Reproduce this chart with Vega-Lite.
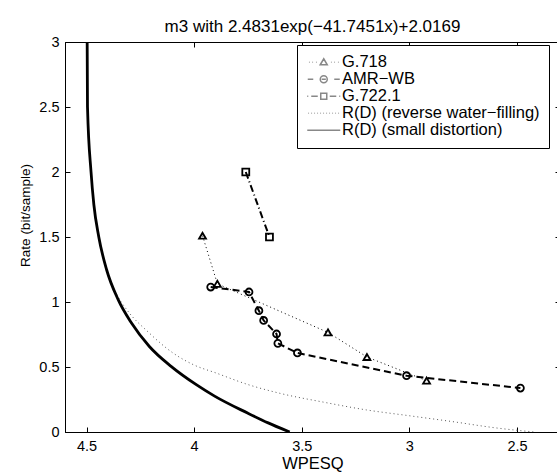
{
  "$schema": "https://vega.github.io/schema/vega-lite/v6.json",
  "width": 495,
  "height": 390,
  "autosize": {"type": "none"},
  "padding": {"left": 65, "top": 42, "right": 0, "bottom": 40},
  "background": "white",
  "title": {"text": "m3 with 2.4831exp(−41.7451x)+2.0169", "fontSize": 17, "fontWeight": "normal", "font": "Liberation Sans", "color": "black", "offset": -2, "anchor": "middle"},
  "config": {
    "view": {"stroke": "black", "strokeWidth": 1},
    "font": "Liberation Sans",
    "axis": {"domainColor": "black", "tickColor": "black", "labelColor": "black", "titleColor": "black", "labelFontSize": 14.5, "titleFontSize": 16.5, "titleFontWeight": "normal", "grid": false, "labelFont": "Liberation Sans", "titleFont": "Liberation Sans"}
  },
  "datasets": {
    "pts": [
      {"series": "G.718", "x": 3.961, "y": 1.51, "o": 1},
      {"series": "G.718", "x": 3.892, "y": 1.14, "o": 2},
      {"series": "G.718", "x": 3.378, "y": 0.766, "o": 3},
      {"series": "G.718", "x": 3.197, "y": 0.577, "o": 4},
      {"series": "G.718", "x": 2.92, "y": 0.395, "o": 5},
      {"series": "AMR−WB", "x": 3.923, "y": 1.115, "o": 1},
      {"series": "AMR−WB", "x": 3.745, "y": 1.077, "o": 2},
      {"series": "AMR−WB", "x": 3.699, "y": 0.933, "o": 3},
      {"series": "AMR−WB", "x": 3.677, "y": 0.858, "o": 4},
      {"series": "AMR−WB", "x": 3.617, "y": 0.754, "o": 5},
      {"series": "AMR−WB", "x": 3.611, "y": 0.682, "o": 6},
      {"series": "AMR−WB", "x": 3.52, "y": 0.608, "o": 7},
      {"series": "AMR−WB", "x": 3.013, "y": 0.433, "o": 8},
      {"series": "AMR−WB", "x": 2.484, "y": 0.338, "o": 9},
      {"series": "G.722.1", "x": 3.76, "y": 2.0, "o": 1},
      {"series": "G.722.1", "x": 3.65, "y": 1.5, "o": 2}
    ],
    "curves": [
      {"series": "R(D) (reverse water−filling)", "x": 4.497, "y": 3.0, "o": 1},
      {"series": "R(D) (reverse water−filling)", "x": 4.4955, "y": 2.5, "o": 2},
      {"series": "R(D) (reverse water−filling)", "x": 4.479, "y": 2.0, "o": 3},
      {"series": "R(D) (reverse water−filling)", "x": 4.466, "y": 1.75, "o": 4},
      {"series": "R(D) (reverse water−filling)", "x": 4.443, "y": 1.5, "o": 5},
      {"series": "R(D) (reverse water−filling)", "x": 4.407, "y": 1.25, "o": 6},
      {"series": "R(D) (reverse water−filling)", "x": 4.36, "y": 1.06, "o": 7},
      {"series": "R(D) (reverse water−filling)", "x": 4.307, "y": 0.928, "o": 8},
      {"series": "R(D) (reverse water−filling)", "x": 4.214, "y": 0.77, "o": 9},
      {"series": "R(D) (reverse water−filling)", "x": 4.1, "y": 0.61, "o": 10},
      {"series": "R(D) (reverse water−filling)", "x": 4.0, "y": 0.515, "o": 11},
      {"series": "R(D) (reverse water−filling)", "x": 3.9, "y": 0.455, "o": 12},
      {"series": "R(D) (reverse water−filling)", "x": 3.75, "y": 0.365, "o": 13},
      {"series": "R(D) (reverse water−filling)", "x": 3.6, "y": 0.297, "o": 14},
      {"series": "R(D) (reverse water−filling)", "x": 3.4, "y": 0.23, "o": 15},
      {"series": "R(D) (reverse water−filling)", "x": 3.2, "y": 0.17, "o": 16},
      {"series": "R(D) (reverse water−filling)", "x": 3.0, "y": 0.125, "o": 17},
      {"series": "R(D) (reverse water−filling)", "x": 2.8, "y": 0.08, "o": 18},
      {"series": "R(D) (reverse water−filling)", "x": 2.6, "y": 0.032, "o": 19},
      {"series": "R(D) (reverse water−filling)", "x": 2.42, "y": 0.0, "o": 20},
      {"series": "R(D) (small distortion)", "x": 4.497, "y": 3.0, "o": 1},
      {"series": "R(D) (small distortion)", "x": 4.4955, "y": 2.5, "o": 2},
      {"series": "R(D) (small distortion)", "x": 4.479, "y": 2.0, "o": 3},
      {"series": "R(D) (small distortion)", "x": 4.466, "y": 1.75, "o": 4},
      {"series": "R(D) (small distortion)", "x": 4.443, "y": 1.5, "o": 5},
      {"series": "R(D) (small distortion)", "x": 4.407, "y": 1.25, "o": 6},
      {"series": "R(D) (small distortion)", "x": 4.353, "y": 1.018, "o": 7},
      {"series": "R(D) (small distortion)", "x": 4.291, "y": 0.838, "o": 8},
      {"series": "R(D) (small distortion)", "x": 4.208, "y": 0.658, "o": 9},
      {"series": "R(D) (small distortion)", "x": 4.107, "y": 0.505, "o": 10},
      {"series": "R(D) (small distortion)", "x": 3.99, "y": 0.364, "o": 11},
      {"series": "R(D) (small distortion)", "x": 3.903, "y": 0.274, "o": 12},
      {"series": "R(D) (small distortion)", "x": 3.752, "y": 0.146, "o": 13},
      {"series": "R(D) (small distortion)", "x": 3.656, "y": 0.07, "o": 14},
      {"series": "R(D) (small distortion)", "x": 3.556, "y": 0.0, "o": 15}
    ]
  },
  "resolve": {"scale": {"shape": "independent"}, "axis": {"x": "independent", "y": "independent"}},
  "layer": [
    {
      "data": {"name": "pts"},
      "transform": [{"filter": "datum.series === 'G.718'"}],
      "mark": {"type": "line", "interpolate": "linear", "clip": true, "color": "black", "strokeWidth": 1, "strokeDash": [1, 3]},
      "encoding": {
        "x": {"field": "x", "type": "quantitative", "scale": {"domain": [2.3, 4.6], "reverse": true, "nice": false, "zero": false},
              "axis": {"values": [2.5, 3, 3.5, 4, 4.5], "format": "~g", "title": "WPESQ", "tickSize": -5, "labelPadding": 12, "titleY": 36.5, "titleBaseline": "alphabetic", "domainWidth": 1}},
        "y": {"field": "y", "type": "quantitative", "scale": {"domain": [0, 3], "nice": false},
              "axis": {"values": [0, 0.5, 1, 1.5, 2, 2.5, 3], "format": "~g", "title": "Rate (bit/sample)", "titleFontSize": 13.5, "tickSize": -5, "labelPadding": 11, "titleX": -33, "titleY": 173, "domainWidth": 1}},
        "order": {"field": "o"}
      }
    },
    {
      "data": {"name": "pts"},
      "transform": [{"filter": "datum.series === 'AMR−WB'"}],
      "mark": {"type": "line", "interpolate": "linear", "clip": true, "color": "black", "strokeWidth": 2, "strokeDash": [7, 4]},
      "encoding": {
        "x": {"field": "x", "type": "quantitative", "axis": null},
        "y": {"field": "y", "type": "quantitative", "axis": null},
        "order": {"field": "o"}
      }
    },
    {
      "data": {"name": "pts"},
      "transform": [{"filter": "datum.series === 'G.722.1'"}],
      "mark": {"type": "line", "interpolate": "linear", "clip": true, "color": "black", "strokeWidth": 2, "strokeDash": [7, 3, 1, 3]},
      "encoding": {
        "x": {"field": "x", "type": "quantitative", "axis": null},
        "y": {"field": "y", "type": "quantitative", "axis": null},
        "order": {"field": "o"}
      }
    },
    {
      "data": {"name": "curves"},
      "transform": [{"filter": "datum.series === 'R(D) (reverse water−filling)'"}],
      "mark": {"type": "line", "interpolate": "monotone", "clip": true, "color": "#555", "strokeWidth": 1, "strokeDash": [1, 3]},
      "encoding": {
        "x": {"field": "x", "type": "quantitative", "axis": null},
        "y": {"field": "y", "type": "quantitative", "axis": null},
        "order": {"field": "o"}
      }
    },
    {
      "data": {"name": "curves"},
      "transform": [{"filter": "datum.series === 'R(D) (small distortion)'"}],
      "mark": {"type": "line", "interpolate": "monotone", "clip": true, "color": "black", "strokeWidth": 2.8},
      "encoding": {
        "x": {"field": "x", "type": "quantitative", "axis": null},
        "y": {"field": "y", "type": "quantitative", "axis": null},
        "order": {"field": "o"}
      }
    },
    {
      "data": {"name": "pts"},
      "mark": {"type": "point", "filled": false, "stroke": "black", "strokeWidth": 1.8, "opacity": 1, "size": 48},
      "encoding": {
        "x": {"field": "x", "type": "quantitative", "axis": {"orient": "top", "values": [2.5, 3, 3.5, 4, 4.5], "labels": false, "tickSize": -5, "title": null, "domainWidth": 1}},
        "y": {"field": "y", "type": "quantitative", "axis": {"orient": "right", "values": [0, 0.5, 1, 1.5, 2, 2.5, 3], "labels": false, "tickSize": -5, "title": null, "domainWidth": 1}},
        "shape": {"field": "series", "type": "nominal", "legend": null,
          "scale": {"domain": ["G.718", "AMR−WB", "G.722.1"], "range": ["triangle-up", "circle", "square"]}}
      }
    },
    {
      "data": {"name": "pts"},
      "transform": [{"filter": "datum.x > 100"}],
      "mark": {"type": "point", "filled": false, "opacity": 1},
      "encoding": {
        "x": {"field": "x", "type": "quantitative", "axis": null},
        "y": {"field": "y", "type": "quantitative", "axis": null},
        "shape": {"field": "series", "type": "nominal",
          "scale": {"domain": ["G.718", "AMR−WB", "G.722.1", "R(D) (reverse water−filling)", "R(D) (small distortion)"],
                    "range": [
                      "M-2.11,0L-2.03,0M-1.61,0L-1.53,0M-1.11,0L-1.03,0M1.03,0L1.11,0M1.53,0L1.61,0M2.03,0L2.11,0M-0.5,0.357L0,-0.5L0.5,0.357Z",
                      "M-2.286,0L-1.5,0M1.5,0L2.286,0M-0.3,0L0.3,0M0.5,0A0.5,0.5,0,1,1,-0.5,0A0.5,0.5,0,1,1,0.5,0",
                      "M-2.357,0L-2.214,0M-1.786,0L-0.857,0M0.857,0L1.786,0M2.214,0L2.357,0M-0.429,-0.429L0.429,-0.429L0.429,0.429L-0.429,0.429Z",
                      "M-2.183,0L-2.103,0M-1.754,0L-1.674,0M-1.326,0L-1.246,0M-0.897,0L-0.817,0M-0.469,0L-0.389,0M-0.04,0L0.04,0M0.389,0L0.469,0M0.817,0L0.897,0M1.246,0L1.326,0M1.674,0L1.754,0M2.103,0L2.183,0",
                      "M-2.357,0L2.357,0"
                    ]},
          "legend": {
            "title": null, "orient": "none", "legendX": 232, "legendY": 3,
            "symbolSize": 196, "symbolOffset": 9.5, "labelOffset": 10, "labelFontSize": 16.5, "labelFont": "Liberation Sans", "labelColor": "black", "labelLimit": 400,
            "rowPadding": -2, "padding": 9, "strokeColor": "black", "fillColor": "white", "cornerRadius": 0, "symbolFillColor": "transparent"
          }},
        "color": {"field": "series", "type": "nominal",
          "scale": {"domain": ["G.718", "AMR−WB", "G.722.1", "R(D) (reverse water−filling)", "R(D) (small distortion)"], "range": ["black", "black", "black", "#666", "black"]}},
        "strokeWidth": {"field": "series", "type": "nominal",
          "scale": {"domain": ["G.718", "AMR−WB", "G.722.1", "R(D) (reverse water−filling)", "R(D) (small distortion)"], "range": [1.7, 1.7, 1.7, 1, 2.5]}}
      }
    }
  ]
}
